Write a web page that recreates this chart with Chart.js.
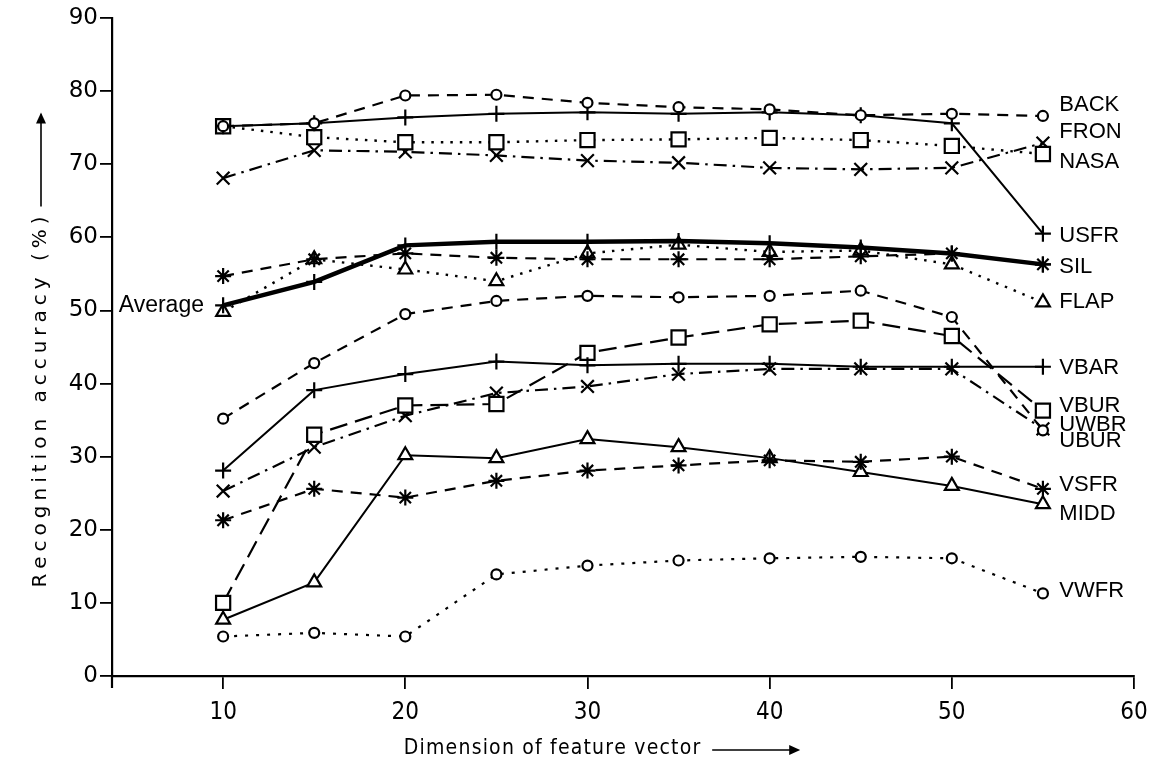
<!DOCTYPE html>
<html>
<head>
<meta charset="utf-8">
<script src="https://cdn.jsdelivr.net/npm/chart.js@4.4.0/dist/chart.umd.min.js"></script>
<style>
  html, body { margin: 0; padding: 0; background: #fff; }
  #wrap { width: 1163px; height: 778px; position: relative; }
</style>
</head>
<body>
<div id="wrap"><canvas id="c" width="1163" height="778"></canvas></div>
<script>
// ---- data ----
const dims = [10, 15, 20, 25, 30, 35, 40, 45, 50, 55];
const xTicks = [10, 20, 30, 40, 50, 60];
const yTicks = [0, 10, 20, 30, 40, 50, 60, 70, 80, 90];

const BACK    = [75.2, 75.6, 79.4, 79.5, 78.4, 77.8, 77.5, 76.7, 76.9, 76.6];
const USFR    = [75.2, 75.6, 76.4, 76.9, 77.1, 76.9, 77.1, 76.7, 75.6, 60.5];
const NASA    = [75.2, 73.7, 73.0, 73.0, 73.3, 73.4, 73.6, 73.3, 72.5, 71.4];
const FRON    = [68.1, 71.9, 71.7, 71.2, 70.5, 70.2, 69.5, 69.3, 69.5, 72.9];
const AVERAGE = [50.7, 53.9, 58.9, 59.4, 59.4, 59.5, 59.2, 58.6, 57.8, 56.3];
const SIL     = [54.7, 57.0, 57.8, 57.2, 57.0, 57.0, 57.0, 57.4, 57.8, 56.3];
const FLAP    = [49.8, 57.0, 55.6, 54.0, 57.8, 59.0, 58.0, 58.2, 56.3, 51.1];
const UBUR    = [35.2, 42.8, 49.5, 51.3, 52.0, 51.8, 52.0, 52.7, 49.1, 33.6];
const VBAR    = [28.1, 39.1, 41.3, 43.0, 42.5, 42.7, 42.7, 42.3, 42.3, 42.3];
const VBUR    = [10.0, 33.0, 37.0, 37.2, 44.2, 46.3, 48.1, 48.6, 46.5, 36.3];
const UWBR    = [25.3, 31.3, 35.6, 38.7, 39.6, 41.3, 42.0, 42.0, 42.0, 33.8];
const VSFR    = [21.3, 25.6, 24.4, 26.7, 28.1, 28.8, 29.5, 29.3, 30.0, 25.6];
const MIDD    = [7.7, 12.8, 30.2, 29.8, 32.4, 31.3, 29.8, 27.9, 26.0, 23.5];
const VWFR    = [5.4, 5.9, 5.4, 13.9, 15.1, 15.8, 16.1, 16.3, 16.1, 11.3];

// right-hand series labels and the value level at which each is written
const labelNames  = ['BACK', 'FRON', 'NASA', 'USFR', 'SIL', 'FLAP', 'VBAR', 'VBUR', 'UWBR', 'UBUR', 'VSFR', 'MIDD', 'VWFR'];
const labelLevels = [78.1, 74.4, 70.3, 60.2, 56.0, 51.1, 42.1, 37.0, 34.4, 32.2, 26.1, 22.1, 11.6];
const averageLabel = 'Average';

const xTitle = 'Dimension of feature vector';
const yTitle = 'Recognition accuracy (%)';

// ---- build ----
const pts = arr => dims.map((d, i) => ({ x: d, y: arr[i] }));
function ds(label, arr, style, dash, width, radius) {
  return {
    label, data: pts(arr),
    borderColor: '#000', borderWidth: width, borderDash: dash,
    pointStyle: style, pointRadius: radius, pointHoverRadius: radius,
    pointBorderColor: '#000', pointBackgroundColor: '#fff', pointBorderWidth: 2.2,
    fill: false, tension: 0
  };
}
const DOT = [2.5, 7], DASH = [11, 8], LDASH = [18, 8], DASHDOT = [13, 6, 2.5, 6];

const datasets = [
  ds('BACK', BACK, 'circle', DASH, 2.2, 5),
  ds('USFR', USFR, 'cross', [], 2, 8),
  ds('NASA', NASA, 'rect', DOT, 2.4, 10),
  ds('FRON', FRON, 'crossRot', DASHDOT, 2.2, 9),
  ds('Average', AVERAGE, 'cross', [], 4.5, 8),
  ds('SIL', SIL, 'star', DASH, 2.2, 8),
  ds('FLAP', FLAP, 'triangle', DOT, 2.4, 8),
  ds('UBUR', UBUR, 'circle', DASH, 2.2, 5),
  ds('VBAR', VBAR, 'cross', [], 2, 8),
  ds('VBUR', VBUR, 'rect', LDASH, 2.2, 10),
  ds('UWBR', UWBR, 'crossRot', DASHDOT, 2.2, 9),
  ds('VSFR', VSFR, 'star', DASH, 2.2, 8),
  ds('MIDD', MIDD, 'triangle', [], 2, 8),
  ds('VWFR', VWFR, 'circle', [3, 8], 2.2, 5)
];

function spacedText(ctx, text, x, y, spacing) {
  let w = 0;
  for (const ch of text) w += ctx.measureText(ch).width + spacing;
  w -= spacing;
  let cx = x - w / 2;
  for (const ch of text) {
    ctx.fillText(ch, cx, y);
    cx += ctx.measureText(ch).width + spacing;
  }
  return w;
}

const annot = {
  id: 'annot',
  afterDraw(chart) {
    const ctx = chart.ctx, xs = chart.scales.x, ys = chart.scales.y;
    ctx.save();
    ctx.fillStyle = '#000';
    ctx.strokeStyle = '#000';
    ctx.font = '22px "Liberation Sans", Arial, sans-serif';
    ctx.textBaseline = 'middle';
    ctx.textAlign = 'left';
    const lx = xs.getPixelForValue(55.9);
    labelNames.forEach((n, i) => ctx.fillText(n, lx, ys.getPixelForValue(labelLevels[i])));
    ctx.textAlign = 'right';
    ctx.font = '23px "Liberation Sans", Arial, sans-serif';
    ctx.fillText(averageLabel, xs.getPixelForValue(8.95), ys.getPixelForValue(AVERAGE[0]));

    // x title with arrow
    ctx.textAlign = 'left';
    ctx.font = '21px "DejaVu Sans Condensed", "Liberation Sans Narrow", "DejaVu Sans", sans-serif';
    const tw = spacedText(ctx, xTitle, 552, 749, 1.2);
    const ax0 = 552 + tw / 2 + 12, ax1 = ax0 + 86;
    ctx.lineWidth = 1.6;
    ctx.beginPath(); ctx.moveTo(ax0, 750); ctx.lineTo(ax1, 750); ctx.stroke();
    ctx.beginPath(); ctx.moveTo(ax1 + 2, 750); ctx.lineTo(ax1 - 9, 745); ctx.lineTo(ax1 - 9, 755); ctx.closePath(); ctx.fill();

    // y title with arrow (rotated)
    ctx.save();
    ctx.translate(41, 402);
    ctx.rotate(-Math.PI / 2);
    ctx.font = '20px "DejaVu Sans", sans-serif';
    const yw = spacedText(ctx, yTitle, 0, 0, 5);
    const b0 = yw / 2 + 10, b1 = b0 + 92;
    ctx.beginPath(); ctx.moveTo(b0, 0); ctx.lineTo(b1, 0); ctx.stroke();
    ctx.beginPath(); ctx.moveTo(b1 + 2, 0); ctx.lineTo(b1 - 9, -5); ctx.lineTo(b1 - 9, 5); ctx.closePath(); ctx.fill();
    ctx.restore();

    // y axis line continues a little below the x axis, as in the reference
    ctx.lineWidth = 2.2;
    const ax = xs.left, by = ys.bottom;
    ctx.beginPath(); ctx.moveTo(ax, by); ctx.lineTo(ax, by + 12); ctx.stroke();
    ctx.restore();
  }
};

new Chart(document.getElementById('c'), {
  type: 'line',
  data: { datasets },
  options: {
    responsive: false,
    animation: false,
    events: [],
    layout: { padding: { left: 0, right: 29, top: 18, bottom: 0 } },
    plugins: { legend: { display: false }, tooltip: { enabled: false }, title: { display: false } },
    scales: {
      x: {
        type: 'linear', min: 3.9, max: 60,
        afterBuildTicks: s => { s.ticks = xTicks.map(v => ({ value: v })); },
        afterFit: s => { s.height = 102; },
        border: { display: true, color: '#000', width: 2.2 },
        grid: { drawOnChartArea: false, drawTicks: true, tickLength: 13, color: '#000', lineWidth: 1.8 },
        ticks: {
          color: '#000', padding: 9, maxRotation: 0,
          font: { family: '"DejaVu Sans Condensed", "Liberation Sans Narrow", "DejaVu Sans", sans-serif', size: 24 }
        }
      },
      y: {
        type: 'linear', min: 0, max: 90,
        afterBuildTicks: s => { s.ticks = yTicks.map(v => ({ value: v })); },
        afterFit: s => { s.width = 112; },
        border: { display: true, color: '#000', width: 2.2 },
        grid: { drawOnChartArea: false, drawTicks: true, tickLength: 12, color: '#000', lineWidth: 1.8 },
        ticks: {
          color: '#000', padding: 2,
          font: { family: '"DejaVu Sans", sans-serif', size: 23 }
        }
      }
    }
  },
  plugins: [annot]
});
</script>
</body>
</html>
